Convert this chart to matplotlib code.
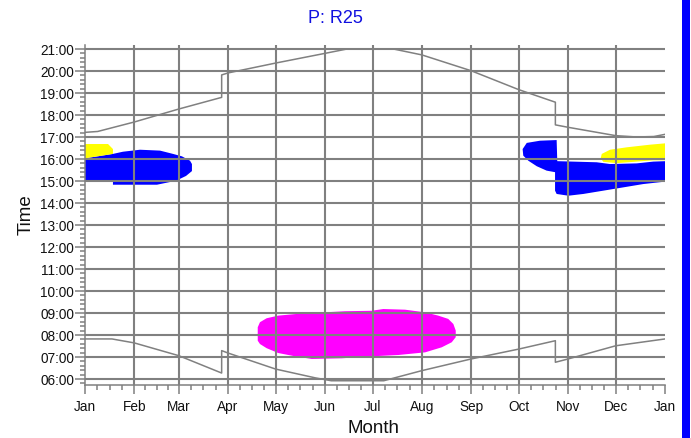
"""Daylight chart for receptor R25: sunrise/sunset curves with shaded periods."""

import matplotlib

matplotlib.use("Agg")
import matplotlib.pyplot as plt
from matplotlib.patches import Rectangle
from matplotlib.ticker import FixedLocator, FuncFormatter, MultipleLocator

plt.rcParams["font.family"] = ["Liberation Sans", "DejaVu Sans"]

# Month boundaries (day of year) and labels
month_starts = [0, 31, 59, 90, 120, 151, 181, 212, 243, 273, 304, 334, 365]
month_labels = ["Jan", "Feb", "Mar", "Apr", "May", "Jun", "Jul",
                "Aug", "Sep", "Oct", "Nov", "Dec", "Jan"]

# Sunset / sunrise (day of year, decimal hour), DST steps included
sunset_day = [0, 8, 31, 59, 86, 86, 90, 120, 151, 165, 194, 212, 243, 273,
              296, 296, 304, 334, 347, 358, 365]
sunset_hour = [17.21, 17.25, 17.68, 18.27, 18.80, 19.82, 19.91, 20.36, 20.80,
               21.00, 21.00, 20.73, 20.01, 19.15, 18.58, 17.55, 17.44, 17.06,
               17.00, 17.02, 17.12]
sunrise_day = [0, 17, 31, 59, 86, 86, 90, 120, 145, 155, 188, 212, 243, 273,
               296, 296, 304, 334, 365]
sunrise_hour = [7.82, 7.82, 7.64, 7.06, 6.27, 7.29, 7.18, 6.45, 6.05, 5.92,
                5.92, 6.38, 6.91, 7.36, 7.74, 6.76, 6.91, 7.51, 7.82]

# Shaded periods as outlines (day of year, decimal hour)
magenta_day = [108.7, 110.1, 114.3, 121.6, 132.2, 151.0, 163.6, 180.4, 187.7,
               201.4, 214.0, 222.3, 228.6, 231.8, 233.3, 233.3, 230.8, 224.5,
               214.0, 197.2, 180.4, 161.5, 142.7, 132.2, 121.6, 114.3, 110.1,
               108.7]
magenta_hour = [8.35, 8.58, 8.76, 8.88, 8.95, 9.03, 9.08, 9.10, 9.18, 9.15,
                9.03, 8.88, 8.73, 8.50, 8.20, 7.90, 7.67, 7.44, 7.21, 7.09,
                7.03, 6.94, 6.91, 7.03, 7.18, 7.40, 7.59, 7.74]

blue_left_day = [0, 17.6, 23.9, 34.6, 47.2, 55.4, 61.0, 66.1, 67.3, 67.3,
                 63.6, 57.3, 45.3, 17.6, 17.6, 0]
blue_left_hour = [16.03, 16.23, 16.33, 16.42, 16.38, 16.23, 16.12, 15.92,
                  15.77, 15.45, 15.23, 15.01, 14.83, 14.83, 14.97, 14.97]

yellow_left_day = [0, 14.5, 17.6, 17.6, 0]
yellow_left_hour = [16.68, 16.68, 16.45, 16.23, 16.03]

blue_right_day = [275.4, 278.0, 286.3, 296.8, 297.2, 322.0, 330.4, 347.2,
                  357.6, 365, 365, 351.3, 338.8, 326.2, 313.6, 304.2, 296.8,
                  295.8, 295.8, 290.5, 284.3, 279.0, 275.8]
blue_right_hour = [16.45, 16.73, 16.83, 16.86, 15.90, 15.85, 15.77, 15.80,
                   15.88, 15.90, 14.97, 14.86, 14.71, 14.56, 14.41, 14.33,
                   14.41, 14.56, 15.40, 15.47, 15.67, 15.92, 16.15]

yellow_right_day = [324.5, 325.2, 330.4, 340.9, 355.6, 365, 365, 357.6, 347.2,
                    334.6, 326.2]
yellow_right_hour = [16.03, 16.23, 16.42, 16.53, 16.65, 16.71, 15.94, 15.94,
                     15.88, 15.81, 15.87]

GREY = "#808080"

fig = plt.figure(figsize=(6.91, 4.39), dpi=100)
ax = fig.add_axes([0.1230, 0.1214, 0.8394, 0.7738])

# shaded periods underneath the grid
ax.fill(magenta_day, magenta_hour, color="#FF00FF", lw=0, zorder=1)
ax.fill(blue_left_day, blue_left_hour, color="#0000FF", lw=0, zorder=1)
ax.fill(yellow_left_day, yellow_left_hour, color="#FFFF00", lw=0, zorder=1)
ax.fill(blue_right_day, blue_right_hour, color="#0000FF", lw=0, zorder=1)
ax.fill(yellow_right_day, yellow_right_hour, color="#FFFF00", lw=0, zorder=1)

# grid: every month boundary and every hour
for d in month_starts[1:-1]:
    ax.axvline(d, color=GREY, lw=1.5, zorder=2)
for h in range(6, 22):
    ax.axhline(h, color=GREY, lw=1.5, zorder=2)

ax.plot(sunset_day, sunset_hour, color=GREY, lw=1.1, zorder=3)
ax.plot(sunrise_day, sunrise_hour, color=GREY, lw=1.1, zorder=3)

ax.set_xlim(0, 365)
ax.set_ylim(5.74, 21.18)

# x ticks: months, with quarter-month minor ticks
minor_x = []
for a, b in zip(month_starts[:-1], month_starts[1:]):
    minor_x += [a + (b - a) * k / 4 for k in (1, 2, 3)]
ax.xaxis.set_major_locator(FixedLocator(month_starts))
ax.set_xticklabels(month_labels)
ax.xaxis.set_minor_locator(FixedLocator(minor_x))

ax.yaxis.set_major_locator(MultipleLocator(1))
ax.yaxis.set_minor_locator(MultipleLocator(0.2))
ax.yaxis.set_major_formatter(FuncFormatter(lambda v, _: f"{int(round(v)):02d}:00"))
ax.set_yticks(range(6, 22))

ax.tick_params(axis="both", which="major", color=GREY, width=1.1,
               labelsize=9.8, labelcolor="#111111")
ax.tick_params(axis="both", which="minor", color=GREY, width=1.1)
ax.tick_params(axis="x", which="major", length=6.5, pad=4)
ax.tick_params(axis="x", which="minor", length=3.5)
ax.tick_params(axis="y", which="major", length=7, pad=1)
ax.tick_params(axis="y", which="minor", length=3.5)

for side in ("top", "right"):
    ax.spines[side].set_visible(False)
for side in ("left", "bottom"):
    ax.spines[side].set_color(GREY)
    ax.spines[side].set_linewidth(1.1)

fig.text(0.486, 0.957, "P: R25", color="#1010E0", fontsize=13,
         ha="center", va="center")
fig.text(0.038, 0.51, "Time", fontsize=13.5, rotation=90,
         ha="center", va="center", color="#111111")
fig.text(0.541, 0.025, "Month", fontsize=13.5, ha="center", va="center",
         color="#111111")

# blue strip along the right edge
fig.add_artist(Rectangle((682 / 691, 0), 8 / 691, 1, transform=fig.transFigure,
                         facecolor="#0000FF", edgecolor="none"))

fig.savefig("out.png", dpi=100)
